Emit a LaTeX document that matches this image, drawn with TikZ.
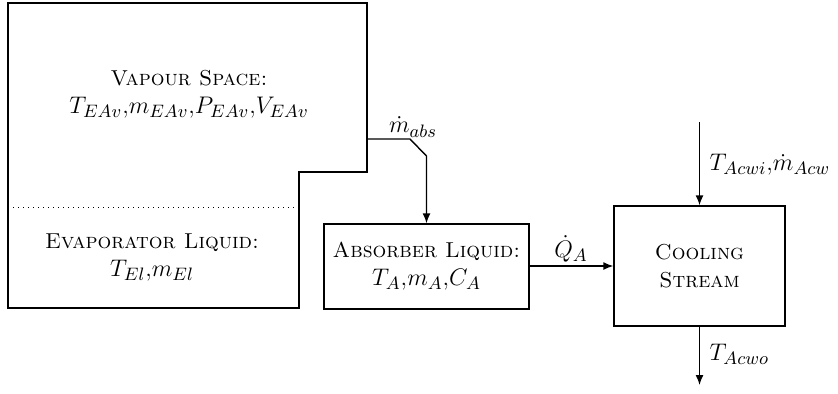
\documentclass[tikz,border=0pt]{standalone}
\usetikzlibrary{arrows.meta}
\newcommand{\mth}[1]{{\fontsize{13}{15}\selectfont$#1$}}
\begin{document}
\begin{tikzpicture}[x=0.5pt,y=-0.5pt, line width=0.7pt,
  font=\fontsize{10.8}{14}\selectfont,
  box/.style={draw, align=center, inner sep=0pt},
  txt/.style={align=center, inner sep=1pt},
  flow/.style={-{Latex[length=5pt,width=4pt]}}]
\useasboundingbox (0,0) rectangle (838,393);
% evaporator vessel
\draw (8,3) -- (367,3) -- (367,172) -- (299,172) -- (299,308) -- (8,308) -- cycle;
\draw[dotted, line width=0.5pt] (8,207) -- (299,207);
\node[txt] (vap) at (189,94) {\textsc{Vapour Space:}\\\mth{T_{EAv}}\mth{,}\mth{m_{EAv}}\mth{,}\mth{P_{EAv}}\mth{,}\mth{V_{EAv}}};
\node[txt] (evl) at (152,257) {\textsc{Evaporator Liquid:}\\\mth{T_{El}}\mth{,}\mth{m_{El}}};
% absorber and cooling stream
\node[box, minimum width=102.5pt, minimum height=42.5pt] (abs) at (426.5,266.5) {\textsc{Absorber Liquid:}\\\mth{T_A}\mth{,}\mth{m_A}\mth{,}\mth{C_A}};
\node[box, minimum width=85.5pt, minimum height=60pt] (cool) at (699.5,266) {\textsc{Cooling}\\\textsc{Stream}};
% connectors
\coordinate (vout) at (367,139);
\coordinate (k1) at (410,139);
\coordinate (k2) at (426.5,156);
\coordinate (cin) at (699.5,122);
\coordinate (cout) at (699.5,385);
\draw[flow] (vout) -- (k1) -- (k2) -- (abs.north);
\draw[flow] (abs.east |- cool.west) -- (cool.west);
\draw[flow] (cin) -- (cool.north);
\draw[flow] (cool.south) -- (cout);
% labels
\node[txt] (lmabs) at (413,127) {\mth{\dot m_{abs}}};
\node[txt] (lqa) at (571,249) {\mth{\dot Q_A}};
\node[txt, anchor=west] (lin) at (707,165) {\mth{T_{Acwi}}\mth{,}\mth{\dot m_{Acw}}};
\node[txt, anchor=west] (lout) at (707,354) {\mth{T_{Acwo}}};
\end{tikzpicture}
\end{document}
